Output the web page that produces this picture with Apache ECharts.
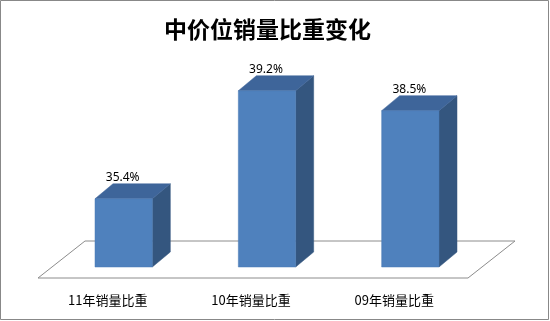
<!DOCTYPE html>
<html>
<head>
<meta charset="utf-8">
<script src="https://cdn.jsdelivr.net/npm/echarts@6/dist/echarts.min.js"></script>
<style>
html,body{margin:0;padding:0;background:#fff;}
#chart{width:550px;height:321px;}
</style>
</head>
<body>
<div id="chart"></div>
<script>
// ---- data ----
const titleText = '中价位销量比重变化';
const categories = ['11年销量比重', '10年销量比重', '09年销量比重'];
const shares = [35.4, 39.2, 38.5];
const valueLabels = ['35.4%', '39.2%', '38.5%'];

const Y_MIN = 33, Y_MAX = 40;

const chart = echarts.init(document.getElementById('chart'), null, {renderer: 'canvas'});

function renderFloor(params, api) {
  const cs = params.coordSys;
  const xl = cs.x, xr = cs.x + cs.width, y = cs.y + cs.height;
  const fdx = -14, fdy = 11, bdx = 33, bdy = -26;
  return {
    type: 'polygon',
    shape: {points: [[xl + fdx, y + fdy], [xr + fdx, y + fdy], [xr + bdx, y + bdy], [xl + bdx, y + bdy]]},
    style: {fill: '#ffffff', stroke: '#8c8c8c', lineWidth: 1}
  };
}

function renderBar(params, api) {
  const cat = api.value(0), val = api.value(1);
  const top = api.coord([cat, val]);
  const base = api.coord([cat, Y_MIN]);
  const bw = api.size([1, 0])[0] * 0.4;
  const x0 = top[0] - bw / 2, x1 = top[0] + bw / 2;
  const yt = top[1], yb = base[1];
  const dx = 18, dy = -15;
  return {
    type: 'group',
    children: [
      {type: 'polygon', shape: {points: [[x1, yt], [x1 + dx, yt + dy], [x1 + dx, yb + dy], [x1, yb]]},
        style: {fill: '#34567f', stroke: '#34567f', lineWidth: 0.5}},
      {type: 'polygon', shape: {points: [[x0, yt], [x0 + dx, yt + dy], [x1 + dx, yt + dy], [x1, yt]]},
        style: {fill: '#3e659a', stroke: '#3e659a', lineWidth: 0.5}},
      {type: 'rect', shape: {x: x0, y: yt, width: bw, height: yb - yt},
        style: {fill: '#4f81bd', stroke: '#4a7ab4', lineWidth: 0.5}},
      {type: 'text', x: top[0] - 1, y: yt + dy - 6,
        style: {text: valueLabels[params.dataIndex], fill: '#000', font: '12px "Noto Sans", sans-serif',
          textAlign: 'center', textVerticalAlign: 'middle'}}
    ]
  };
}

chart.setOption({
  animation: false,
  backgroundColor: '#ffffff',
  title: {
    text: titleText, left: 159, top: 13,
    textStyle: {fontSize: 23, fontWeight: 'bold', color: '#000', fontFamily: '"Noto Sans CJK SC", sans-serif'}
  },
  graphic: [{type: 'rect', shape: {x: 0.5, y: 0.5, width: 548, height: 319},
    style: {fill: 'none', stroke: '#888888', lineWidth: 1}, silent: true, z: 100}],
  grid: {left: 52, right: 68, top: 68, bottom: 54},
  xAxis: {
    type: 'category', data: categories,
    axisLine: {show: false}, axisTick: {show: false},
    axisLabel: {margin: 27, fontSize: 13, color: '#000', fontFamily: '"Noto Sans CJK SC", sans-serif', padding: [0, 32, 0, 0]}
  },
  yAxis: {type: 'value', min: Y_MIN, max: Y_MAX, show: false, splitLine: {show: false}},
  series: [
    {type: 'custom', renderItem: renderFloor, data: [[0, Y_MIN]], z: 1, silent: true},
    {type: 'custom', renderItem: renderBar, data: shares.map((v, i) => [i, v]), z: 2}
  ]
});
</script>
</body>
</html>
